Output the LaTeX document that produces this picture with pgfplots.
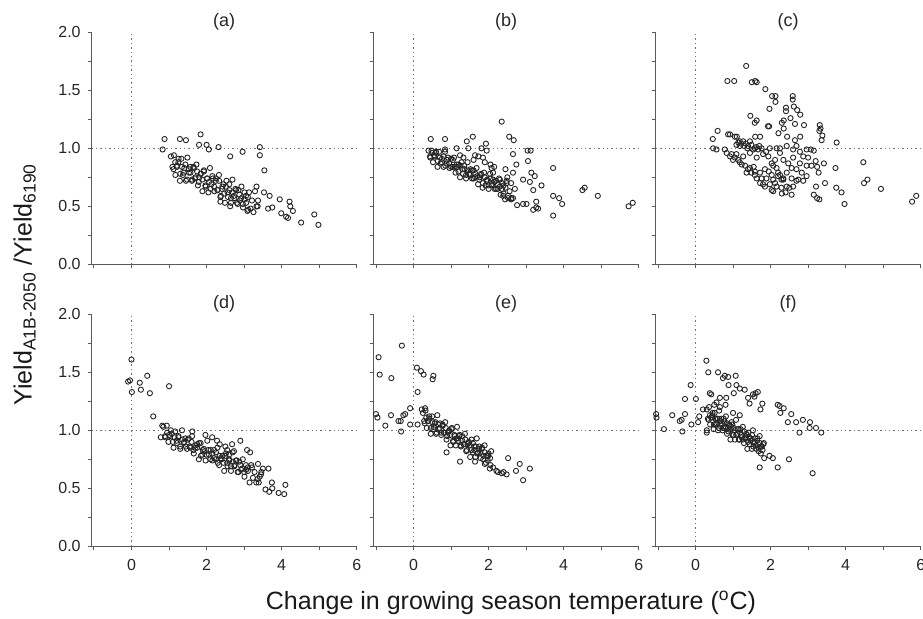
\documentclass[border=0pt]{standalone}
\usepackage{pgfplots}
\pgfplotsset{compat=1.18}
\usepgfplotslibrary{groupplots}
\usepackage{fontspec}
\setmainfont{Liberation Sans}

\pgfplotsset{
  panel/.style={
    scale only axis, width=132.5pt, height=116pt,
    xmin=-1.06, xmax=6, ymin=0, ymax=2,
    axis x line*=bottom, axis y line*=left,
    axis line style={black!65, line width=0.45pt, -},
    tick align=outside, tick style={black!65, line width=0.45pt},
    major tick length=2pt, minor tick length=2pt,
    xtick={0,2,4,6}, minor xtick={-1,1,3,5},
    ytick={0,0.5,1,1.5,2}, minor ytick={0.25,0.75,1.25,1.75},
    /pgf/number format/assume math mode=true,
    yticklabel style={/pgf/number format/.cd, fixed, fixed zerofill, precision=1},
    xticklabel style={yshift=-1pt},
    tick label style={font=\fontsize{8}{9.6}\selectfont, black!85},
    title style={font=\fontsize{9}{10.8}\selectfont, black!85, yshift=-8.5pt},
    clip=false,
  },
  pts/.style={only marks, mark=o, mark size=1.3pt, black!85, mark options={line width=0.45pt}},
  ref/.style={no marks, black!55, line width=0.5pt, dash pattern=on 0.7pt off 1.5pt},
}

\begin{document}
\begin{tikzpicture}
\begin{groupplot}[group style={group size=3 by 2, horizontal sep=8.5pt, vertical sep=25pt,
    xticklabels at=edge bottom, yticklabels at=edge left, group name=G}, panel]

% (a)
\nextgroupplot[title={(a)}]
\addplot[ref] coordinates {(0,0) (0,2)};
\addplot[ref] coordinates {(-1.06,1) (6,1)};
\addplot[pts] coordinates {
(0.88,1.08)(0.83,0.99)(1.29,1.08)(1.45,1.07)(1.84,1.12)(1.80,1.03)(2.00,1.03)(2.06,0.99)(2.32,1.01)(2.63,0.93)(2.96,0.97)(3.42,1.01)(3.42,0.94)(3.54,0.81)
(3.95,0.56)(4.21,0.54)(4.23,0.50)(4.30,0.46)(3.99,0.44)(4.12,0.41)(4.17,0.40)(4.52,0.36)(4.87,0.43)(4.98,0.34)(3.64,0.48)(3.75,0.49)(3.68,0.59)(3.53,0.62)(3.33,0.67)(3.36,0.50)(3.11,0.47)(2.63,0.50)(2.37,0.54)
(1.05,0.93)(1.09,0.84)(1.13,0.94)(1.17,0.77)(1.21,0.85)(1.25,0.88)(1.29,0.72)(1.33,0.91)(1.37,0.77)(1.41,0.83)(1.45,0.72)(1.49,0.92)(1.53,0.79)(1.57,0.84)(1.61,0.72)
(1.65,0.84)(1.69,0.74)(1.73,0.86)(1.77,0.68)(1.81,0.75)(1.85,0.78)(1.89,0.63)(1.93,0.81)(1.97,0.68)(2.01,0.74)(2.05,0.62)(2.09,0.83)(2.13,0.69)(2.17,0.74)(2.21,0.63)
(2.25,0.74)(2.29,0.64)(2.33,0.77)(2.37,0.58)(2.41,0.65)(2.45,0.69)(2.49,0.53)(2.53,0.72)(2.57,0.58)(2.61,0.64)(2.65,0.53)(2.69,0.73)(2.73,0.59)(2.77,0.65)(2.81,0.53)
(2.85,0.64)(2.89,0.55)(2.93,0.67)(2.97,0.49)(3.01,0.56)(3.05,0.59)(3.09,0.46)(3.13,0.62)(3.17,0.48)(3.21,0.55)(3.25,0.45)(3.29,0.63)(3.33,0.50)(3.37,0.55)
(1.12,0.82)(1.165,0.88)(1.21,0.84)(1.255,0.91)(1.30,0.78)(1.345,0.84)(1.39,0.79)(1.435,0.86)(1.48,0.73)(1.525,0.82)(1.57,0.79)(1.615,0.73)(1.66,0.83)(1.705,0.75)(1.75,0.80)
(1.795,0.71)(1.84,0.78)(1.885,0.73)(1.93,0.80)(1.975,0.67)(2.02,0.74)(2.065,0.71)(2.11,0.65)(2.155,0.76)(2.20,0.67)(2.245,0.72)(2.29,0.64)(2.335,0.72)(2.38,0.59)(2.425,0.67)
(2.47,0.61)(2.515,0.67)(2.56,0.62)(2.605,0.69)(2.65,0.57)(2.695,0.62)(2.74,0.57)(2.785,0.64)(2.83,0.52)(2.875,0.60)(2.92,0.57)(2.965,0.52)(3.01,0.62)(3.055,0.53)(3.10,0.58)
};

% (b)
\nextgroupplot[title={(b)}]
\addplot[ref] coordinates {(0,0) (0,2)};
\addplot[ref] coordinates {(-1.06,1) (6,1)};
\addplot[pts] coordinates {
(0.46,1.08)(0.84,1.08)(0.84,0.99)(1.15,1.00)(1.42,1.06)(1.58,1.10)(1.46,1.00)(1.81,1.00)(1.93,1.04)(2.35,1.23)(2.55,1.10)(2.67,1.07)(2.65,0.95)(3.04,0.98)(3.12,0.98)
(3.05,0.89)(2.74,0.86)(2.65,0.79)(3.14,0.79)(3.23,0.76)(3.41,0.68)(3.10,0.71)(2.92,0.73)(3.19,0.64)(3.72,0.83)(3.72,0.59)(3.88,0.57)(3.96,0.52)(3.72,0.42)(3.27,0.54)
(3.27,0.49)(3.19,0.47)(3.32,0.48)(3.01,0.52)(2.92,0.52)(2.76,0.51)(4.50,0.64)(4.56,0.66)(4.91,0.59)(5.73,0.50)(5.84,0.53)(1.95,0.98)(1.90,0.88)(1.64,0.94)(1.73,0.93)
(1.24,0.94)(1.33,0.92)(2.08,0.83)(2.12,0.79)(2.30,0.73)(2.48,0.72)(2.52,0.57)(2.61,0.57)(2.39,0.59)(2.65,0.57)(2.05,0.86)(2.15,0.84)(2.45,0.82)(2.50,0.75)(2.60,0.70)
(2.70,0.65)(1.85,0.92)(1.60,0.90)
(0.40,0.98)(0.44,0.93)(0.48,0.98)(0.52,0.88)(0.56,0.93)(0.60,0.96)(0.64,0.84)(0.68,0.97)(0.72,0.87)(0.76,0.91)(0.80,0.84)(0.84,0.97)(0.88,0.87)(0.92,0.92)(0.96,0.83)
(1.00,0.91)(1.04,0.84)(1.08,0.92)(1.12,0.79)(1.16,0.84)(1.20,0.86)(1.24,0.75)(1.28,0.88)(1.32,0.78)(1.36,0.82)(1.40,0.74)(1.44,0.88)(1.48,0.78)(1.52,0.82)(1.56,0.74)
(1.60,0.81)(1.64,0.75)(1.68,0.83)(1.72,0.69)(1.76,0.75)(1.80,0.77)(1.84,0.66)(1.88,0.79)(1.92,0.68)(1.96,0.73)(2.00,0.65)(2.04,0.78)(2.08,0.69)(2.12,0.73)(2.16,0.65)
(2.20,0.72)(2.24,0.65)(2.28,0.74)(2.32,0.60)(2.36,0.65)(2.40,0.68)(2.44,0.56)(2.48,0.70)(2.52,0.59)(2.56,0.63)(2.60,0.56)
(0.45,0.92)(0.50,0.96)(0.55,0.94)(0.60,0.97)(0.65,0.89)(0.70,0.92)(0.75,0.88)(0.80,0.93)(0.85,0.85)(0.90,0.90)(0.95,0.87)(1.00,0.84)(1.05,0.90)(1.10,0.84)(1.15,0.86)
(1.20,0.80)(1.25,0.85)(1.30,0.82)(1.35,0.85)(1.40,0.77)(1.45,0.81)(1.50,0.77)(1.55,0.81)(1.60,0.74)(1.65,0.78)(1.70,0.76)(1.75,0.73)(1.80,0.78)(1.85,0.70)(1.90,0.75)
(1.95,0.72)(2.00,0.68)(2.05,0.74)(2.10,0.68)(2.15,0.71)(2.20,0.65)(2.25,0.69)(2.30,0.67)(2.35,0.70)(2.40,0.61)(2.45,0.66)
};

% (c)
\nextgroupplot[title={(c)}]
\addplot[ref] coordinates {(0,0) (0,2)};
\addplot[ref] coordinates {(-1.06,1) (6,1)};
\addplot[pts] coordinates {
(1.35,1.71)(0.85,1.58)(1.03,1.58)(1.50,1.57)(1.59,1.58)(1.63,1.57)(1.86,1.51)(2.04,1.45)(2.13,1.45)(2.13,1.40)(1.97,1.34)(2.59,1.45)(2.59,1.42)(2.62,1.36)(2.41,1.35)
(2.41,1.32)(2.71,1.33)(2.79,1.29)(2.53,1.26)(2.35,1.24)(2.30,1.22)(1.46,1.28)(1.63,1.24)(1.58,1.22)(1.96,1.19)(1.93,1.19)(2.35,1.17)(2.21,1.13)(2.65,1.21)(2.89,1.20)
(3.31,1.20)(3.33,1.17)(3.30,1.15)(3.38,1.11)(3.36,1.07)(3.76,1.05)(2.79,1.10)(2.65,1.07)(2.44,1.10)(1.59,1.10)(0.59,1.15)(0.46,1.08)(0.92,1.12)(1.10,1.10)(1.72,1.10)
(3.15,0.98)(3.07,0.99)(3.20,0.89)(3.24,0.84)(3.28,0.79)(3.21,0.67)(3.42,0.87)(3.45,0.70)(3.15,0.60)(3.24,0.57)(3.30,0.56)(3.73,0.83)(3.75,0.66)(3.89,0.62)(3.97,0.52)
(4.47,0.88)(4.49,0.70)(4.58,0.73)(4.94,0.65)(5.77,0.54)(5.88,0.59)
(0.87,1.12)(1.05,1.10)(1.14,1.05)(1.18,1.02)(1.27,1.06)(1.34,1.04)(1.38,1.00)(1.40,1.02)(1.49,1.03)(1.54,0.99)(1.58,1.00)(1.67,0.99)(1.70,1.02)(1.76,1.00)(1.80,0.95)
(1.88,0.97)(1.94,0.93)(1.98,1.00)(2.03,0.87)(2.07,0.85)(2.12,0.90)(2.16,0.83)(2.20,0.79)(2.25,0.77)(2.29,0.73)(2.34,0.74)(2.16,1.00)(2.25,1.00)(2.43,1.02)(1.18,1.06)
(1.09,1.03)(1.45,1.06)(1.22,1.04)(1.30,1.02)(1.62,1.01)
(0.47,1.00)(0.56,0.99)(0.78,0.99)(0.83,0.96)(0.92,0.93)(0.96,0.95)(1.05,0.92)(1.14,0.90)(1.23,0.86)(1.32,0.85)(1.36,0.79)(1.45,0.83)(1.49,0.79)(1.58,0.80)(1.63,0.74)
(1.72,0.79)(1.76,0.74)(1.85,0.82)(1.80,0.69)(1.89,0.74)(1.98,0.69)(2.03,0.77)(2.07,0.73)(2.03,0.64)(2.07,0.63)(2.16,0.67)(2.20,0.76)(2.29,0.66)(2.34,0.73)(2.43,0.67)
(2.56,0.60)(2.60,0.67)(2.69,0.72)(2.56,0.83)(2.69,0.82)(2.78,0.87)(2.87,0.93)(3.00,0.92)(2.60,0.92)(2.47,0.87)(2.34,0.90)(2.25,0.96)(2.69,1.02)(2.96,0.76)(2.87,0.72)
(2.74,0.73)(1.72,0.70)(1.85,0.67)(1.58,0.77)(1.09,0.95)(1.27,0.93)(1.63,0.92)(1.45,0.96)(2.43,0.79)(2.56,0.74)(2.83,0.79)(2.96,0.85)(3.09,0.85)(2.60,0.99)(2.78,0.97)
(2.96,0.99)(1.00,0.90)(1.18,0.88)(1.40,0.82)(1.55,0.84)(1.95,0.80)(2.12,0.70)(2.40,0.62)(2.50,0.66)(2.30,0.61)
};

% (d)
\nextgroupplot[title={(d)}]
\addplot[ref] coordinates {(0,0) (0,2)};
\addplot[ref] coordinates {(-1.06,1) (6,1)};
\addplot[pts] coordinates {
(0.00,1.61)(-0.09,1.42)(-0.04,1.43)(0.01,1.33)(0.22,1.41)(0.25,1.35)(0.42,1.47)(0.49,1.32)(1.00,1.38)(0.58,1.12)(0.78,0.94)(0.82,1.04)
(3.57,0.49)(3.67,0.47)(3.74,0.55)(3.92,0.46)(4.07,0.45)(4.10,0.53)(3.65,0.67)(3.50,0.67)(3.36,0.58)(3.39,0.55)(3.21,0.68)(3.75,0.50)(3.45,0.62)
(1.62,0.99)(1.97,0.96)(2.15,0.94)(2.28,0.91)(2.68,0.88)(2.90,0.91)(3.08,0.83)(3.16,0.81)(2.55,0.83)(2.73,0.82)(2.60,0.79)(2.50,0.86)(2.35,0.88)
(0.85,1.03)(0.895,0.95)(0.94,1.04)(0.985,0.90)(1.03,0.95)(1.075,0.97)(1.12,0.85)(1.165,0.99)(1.21,0.89)(1.255,0.94)(1.30,0.84)(1.345,1.00)(1.39,0.89)(1.435,0.93)(1.48,0.84)
(1.525,0.93)(1.57,0.85)(1.615,0.95)(1.66,0.80)(1.705,0.85)(1.75,0.88)(1.795,0.75)(1.84,0.89)(1.885,0.79)(1.93,0.84)(1.975,0.74)(2.02,0.91)(2.065,0.79)(2.11,0.83)(2.155,0.74)
(2.20,0.83)(2.245,0.75)(2.29,0.85)(2.335,0.70)(2.38,0.76)(2.425,0.78)(2.47,0.65)(2.515,0.80)(2.56,0.69)(2.605,0.74)(2.65,0.65)(2.695,0.81)(2.74,0.69)(2.785,0.74)(2.83,0.64)
(2.875,0.73)(2.92,0.66)(2.965,0.75)(3.01,0.60)(3.055,0.66)(3.10,0.68)(3.145,0.55)(3.19,0.70)(3.235,0.59)(3.28,0.64)(3.325,0.55)(3.37,0.71)(3.415,0.60)(3.46,0.64)
(0.90,0.94)(0.95,0.98)(1.00,0.96)(1.05,1.00)(1.10,0.90)(1.15,0.94)(1.20,0.91)(1.25,0.95)(1.30,0.86)(1.35,0.92)(1.40,0.90)(1.45,0.86)(1.50,0.92)(1.55,0.86)(1.60,0.90)
(1.65,0.83)(1.70,0.87)(1.75,0.85)(1.80,0.89)(1.85,0.78)(1.90,0.83)(1.95,0.82)(2.00,0.79)(2.05,0.83)(2.10,0.75)(2.15,0.80)(2.20,0.76)(2.25,0.81)(2.30,0.72)(2.35,0.78)
(2.40,0.75)(2.45,0.72)(2.50,0.78)(2.55,0.72)(2.60,0.75)(2.65,0.69)(2.70,0.73)(2.75,0.70)(2.80,0.74)(2.85,0.64)(2.90,0.70)(2.95,0.67)(3.00,0.64)(3.05,0.70)(3.10,0.65)
};

% (e)
\nextgroupplot[title={(e)}]
\addplot[ref] coordinates {(0,0) (0,2)};
\addplot[ref] coordinates {(-1.06,1) (6,1)};
\addplot[pts] coordinates {
(-0.93,1.63)(-0.90,1.48)(-0.59,1.45)(-0.31,1.73)(-1.00,1.14)(-0.96,1.11)(-0.75,1.04)(-0.60,1.13)(-0.40,1.08)(-0.34,1.08)(-0.27,1.13)(-0.22,1.14)(-0.33,0.99)(-0.09,1.19)(-0.09,1.05)
(0.09,1.54)(0.20,1.51)(0.27,1.48)(0.53,1.47)(0.51,1.44)(0.11,1.33)(0.11,1.05)(0.22,1.18)(0.31,1.19)
(1.99,0.78)(2.04,0.76)(1.90,0.71)(2.12,0.68)(2.21,0.65)(2.35,0.63)(2.48,0.62)(2.52,0.76)(2.73,0.65)(2.83,0.71)(2.92,0.57)(3.10,0.67)(1.24,0.73)(0.88,0.81)(1.64,0.73)
(2.25,0.64)(2.40,0.64)(2.05,0.70)
(0.25,1.15)(0.285,1.08)(0.32,1.17)(0.355,1.02)(0.39,1.08)(0.425,1.10)(0.46,0.97)(0.495,1.12)(0.53,1.01)(0.565,1.06)(0.60,0.97)(0.635,1.13)(0.67,1.01)(0.705,1.06)(0.74,0.96)
(0.775,1.05)(0.81,0.98)(0.845,1.07)(0.88,0.92)(0.915,0.98)(0.95,1.00)(0.985,0.87)(1.02,1.02)(1.055,0.91)(1.09,0.96)(1.125,0.87)(1.16,1.03)(1.195,0.91)(1.23,0.96)(1.265,0.86)
(1.30,0.95)(1.335,0.88)(1.37,0.97)(1.405,0.82)(1.44,0.88)(1.475,0.90)(1.51,0.77)(1.545,0.92)(1.58,0.81)(1.615,0.86)(1.65,0.77)(1.685,0.93)(1.72,0.81)(1.755,0.86)(1.79,0.76)
(1.825,0.85)(1.86,0.78)(1.895,0.87)(1.93,0.72)(1.965,0.78)(2.00,0.80)(2.035,0.67)(2.07,0.82)
(0.30,1.06)(0.34,1.11)(0.38,1.08)(0.42,1.12)(0.46,1.02)(0.50,1.07)(0.54,1.03)(0.58,1.07)(0.62,0.98)(0.66,1.05)(0.70,1.02)(0.74,0.98)(0.78,1.04)(0.82,0.98)(0.86,1.02)
(0.90,0.95)(0.94,0.99)(0.98,0.96)(1.02,1.01)(1.06,0.90)(1.10,0.95)(1.14,0.93)(1.18,0.93)(1.22,0.95)(1.26,0.87)(1.30,0.91)(1.34,0.88)(1.38,0.92)(1.42,0.83)(1.46,0.89)
(1.50,0.87)(1.54,0.83)(1.58,0.89)(1.62,0.83)(1.66,0.86)(1.70,0.80)(1.74,0.84)(1.78,0.81)(1.82,0.84)(1.86,0.75)(1.90,0.81)(1.94,0.78)(1.98,0.74)
};

% (f)
\nextgroupplot[title={(f)}]
\addplot[ref] coordinates {(0,0) (0,2)};
\addplot[ref] coordinates {(-1.06,1) (6,1)};
\addplot[pts] coordinates {
(-1.05,1.14)(-1.04,1.11)(-0.84,1.01)(-0.62,1.13)(-0.42,1.08)(-0.37,1.09)(-0.35,0.99)(-0.28,1.14)(-0.28,1.27)(-0.13,1.39)(-0.11,1.05)(0.01,1.27)(0.07,1.07)(0.10,1.12)(0.20,1.18)
(0.29,1.60)(0.34,1.50)(0.60,1.50)(0.73,1.45)(0.78,1.47)(0.87,1.46)(1.07,1.47)(0.88,1.39)(1.09,1.39)(1.18,1.36)(1.31,1.35)(1.02,1.32)(1.40,1.28)(1.44,1.23)(1.53,1.31)
(1.60,1.32)(1.66,1.33)(1.57,1.29)(1.78,1.23)(1.73,1.18)(1.18,1.13)(0.82,1.28)(0.65,1.28)(0.56,1.24)(0.38,1.32)(0.42,1.31)(2.19,1.22)(2.24,1.21)(2.35,1.19)(2.26,1.15)
(2.55,1.14)(2.46,1.07)(2.68,1.07)(2.86,1.09)(2.77,0.98)(3.05,1.07)(3.04,1.02)(3.21,1.02)(3.35,0.98)(3.12,0.63)(1.71,0.68)(2.19,0.68)(2.49,0.75)(2.06,0.76)(1.97,0.78)
(0.30,0.98)(0.30,1.00)(0.65,1.20)(0.80,1.22)(1.00,1.15)(0.50,1.22)
(0.30,1.18)(0.33,1.10)(0.36,1.20)(0.39,1.05)(0.42,1.11)(0.45,1.13)(0.48,1.01)(0.51,1.15)(0.54,1.05)(0.57,1.10)(0.60,1.00)(0.63,1.17)(0.66,1.05)(0.69,1.10)(0.72,1.00)
(0.75,1.10)(0.78,1.02)(0.81,1.12)(0.84,0.97)(0.87,1.02)(0.90,1.05)(0.93,0.92)(0.96,1.07)(0.99,0.96)(1.02,1.02)(1.05,0.92)(1.08,1.09)(1.11,0.97)(1.14,1.01)(1.17,0.92)
(1.20,1.01)(1.23,0.94)(1.26,1.03)(1.29,0.89)(1.32,0.94)(1.35,0.97)(1.38,0.84)(1.41,0.98)(1.44,0.88)(1.47,0.93)(1.50,0.84)(1.53,1.00)(1.56,0.89)(1.59,0.93)(1.62,0.84)
(1.65,0.93)(1.68,0.85)(1.71,0.95)(1.74,0.80)(1.77,0.86)(1.80,0.88)(1.83,0.76)
(0.35,1.09)(0.385,1.13)(0.42,1.11)(0.455,1.15)(0.49,1.05)(0.525,1.10)(0.56,1.06)(0.595,1.10)(0.63,1.02)(0.665,1.08)(0.70,1.06)(0.735,1.02)(0.77,1.08)(0.805,1.03)(0.84,1.06)
(0.875,0.99)(0.91,1.04)(0.945,1.01)(0.98,1.05)(1.015,0.96)(1.05,1.00)(1.085,0.96)(1.12,1.01)(1.155,0.92)(1.19,0.98)(1.225,0.96)(1.26,0.92)(1.295,0.99)(1.33,0.93)(1.365,0.96)
(1.40,0.90)(1.435,0.94)(1.47,0.91)(1.505,0.96)(1.54,0.86)(1.575,0.90)(1.61,0.87)(1.645,0.91)(1.68,0.82)(1.715,0.89)(1.75,0.86)(1.785,0.83)(1.82,0.89)
};
\end{groupplot}

\node[rotate=90, anchor=base, font=\fontsize{12.5}{15}\selectfont, black!90]
  at ([shift={(-30pt,-126.1pt)}]G c1r1.north west)
  {Yield\textsubscript{A1B-2050} /Yield\textsubscript{6190}};
\node[anchor=base, font=\fontsize{12.5}{15}\selectfont, black!90]
  at ([shift={(209.65pt,-288.35pt)}]G c1r1.north west)
  {Change in growing season temperature (\textsuperscript{o}C)};

\pgfresetboundingbox
\path[use as bounding box] ([shift={(-45.85pt,16.15pt)}]G c1r1.north west)
  rectangle ([shift={(415.65pt,-292.85pt)}]G c1r1.north west);
\end{tikzpicture}
\end{document}
